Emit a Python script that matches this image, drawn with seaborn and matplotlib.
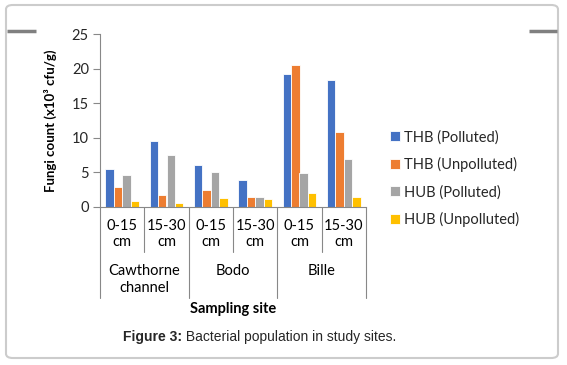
import matplotlib
matplotlib.use("Agg")
import matplotlib.pyplot as plt
import matplotlib.transforms as mtransforms
from matplotlib.patches import FancyBboxPatch
from matplotlib.lines import Line2D
import seaborn as sns
import pandas as pd

# ---- data ----
depths = ["0-15\ncm", "15-30\ncm", "0-15\ncm", "15-30\ncm", "0-15\ncm", "15-30\ncm"]
sites = ["Cawthorne\nchannel", "Bodo", "Bille"]
series = ["THB (Polluted)", "THB (Unpolluted)", "HUB (Polluted)", "HUB (Unpolluted)"]
thb_polluted = [5.5, 9.6, 6.0, 3.9, 19.2, 18.4]
thb_unpolluted = [2.9, 1.7, 2.5, 1.4, 20.5, 10.9]
hub_polluted = [4.6, 7.5, 5.0, 1.4, 4.9, 6.9]
hub_unpolluted = [0.9, 0.6, 1.3, 1.1, 2.0, 1.5]
colors = ["#4472C4", "#ED7D31", "#A5A5A5", "#FFC000"]
yticks = [0, 5, 10, 15, 20, 25]

cats = [str(i) for i in range(len(depths))]
rows = []
for name, vals in zip(series, [thb_polluted, thb_unpolluted, hub_polluted, hub_unpolluted]):
    for c, v in zip(cats, vals):
        rows.append({"cat": c, "series": name, "value": v})
df = pd.DataFrame(rows)

sns.set_theme(style="white")
plt.rcParams["font.family"] = ["Lato", "DejaVu Sans"]

W, H = 567, 365
fig = plt.figure(figsize=(W / 100, H / 100), dpi=100)
ax = fig.add_axes([100 / W, 1 - 207 / H, 266 / W, 173 / H])

sns.barplot(data=df, x="cat", y="value", hue="series", order=cats, hue_order=series,
            palette=colors, width=0.76, edgecolor="white", linewidth=0.6,
            saturation=1, ax=ax, legend=True)

ax.set_ylim(0, 25)
ax.set_xlim(-0.5, len(cats) - 0.5)
ax.set_yticks(yticks)
ax.set_yticklabels([str(t) for t in yticks], fontsize=10.5, color="#262626")
ax.set_xticks([])
ax.set_xlabel("")
ax.set_ylabel("Fungi count (x10³ cfu/g)", fontsize=9.5, fontweight="bold", color="#000000")
ax.yaxis.set_label_coords(-0.162, 0.5)
ax.tick_params(axis="y", direction="out", length=5, width=0.8, color="#888888", pad=3, left=True)
for s in ["top", "right"]:
    ax.spines[s].set_visible(False)
for s in ["left", "bottom"]:
    ax.spines[s].set_color("#888888")
    ax.spines[s].set_linewidth(0.8)

# legend
handles, labels = ax.get_legend_handles_labels()
ax.get_legend().remove()
fig.legend(handles, labels, loc="upper left", bbox_to_anchor=(390 / W, 1 - 130 / H),
           frameon=False, fontsize=10.5, handlelength=0.68, handleheight=0.68,
           handletextpad=0.3, labelspacing=0.88, borderpad=0, borderaxespad=0)

# multi-level category axis
trans = mtransforms.blended_transform_factory(ax.transData, fig.transFigure)
for i, d in enumerate(depths):
    ax.text(i, 1 - 234 / H, d, transform=trans, ha="center", va="center",
            fontsize=10.5, linespacing=1.25, color="#000000")
for j, s in enumerate(sites):
    ax.text(2 * j + 0.5, 1 - 264 / H, s, transform=trans, ha="center", va="top",
            fontsize=10.5, linespacing=1.25, color="#000000", multialignment="center")
for b in range(len(cats) + 1):
    xb = b - 0.5
    ybot = 298 if b % 2 == 0 else 252
    ax.add_line(Line2D([xb, xb], [1 - 207 / H, 1 - ybot / H], transform=trans,
                       color="#888888", lw=0.8, clip_on=False))
ax.text(2.5, 1 - 309 / H, "Sampling site", transform=trans, ha="center", va="center",
        fontsize=10.5, fontweight="bold", color="#000000")

# frame
frame = FancyBboxPatch((6 / W, 1 - 358 / H), (558 - 6) / W, (358 - 5) / H,
                       boxstyle="round,pad=0,rounding_size=0.012",
                       transform=fig.transFigure, facecolor="none",
                       edgecolor="#cccccc", lw=1.5)
fig.patches.append(frame)
fig.add_artist(Line2D([7 / W, 36 / W], [1 - 31 / H, 1 - 31 / H], transform=fig.transFigure,
                      color="#808080", lw=2.5, solid_capstyle="butt"))
fig.add_artist(Line2D([529 / W, 557 / W], [1 - 31 / H, 1 - 31 / H], transform=fig.transFigure,
                      color="#808080", lw=2.5, solid_capstyle="butt"))

# caption
fig.canvas.draw()
r = fig.canvas.get_renderer()
cap_y = 1 - 337 / H
t1 = fig.text(0, cap_y, "Figure 3:", fontsize=10, fontweight="bold",
              family=["Liberation Sans", "DejaVu Sans"], va="center", ha="left")
t2 = fig.text(0, cap_y, " Bacterial population in study sites.", fontsize=10,
              family=["Liberation Sans", "DejaVu Sans"], va="center", ha="left")
w1 = t1.get_window_extent(r).width
w2 = t2.get_window_extent(r).width
x0 = 260 - (w1 + w2) / 2
t1.set_x(x0 / W)
t2.set_x((x0 + w1) / W)

fig.savefig("out.png", dpi=100)
